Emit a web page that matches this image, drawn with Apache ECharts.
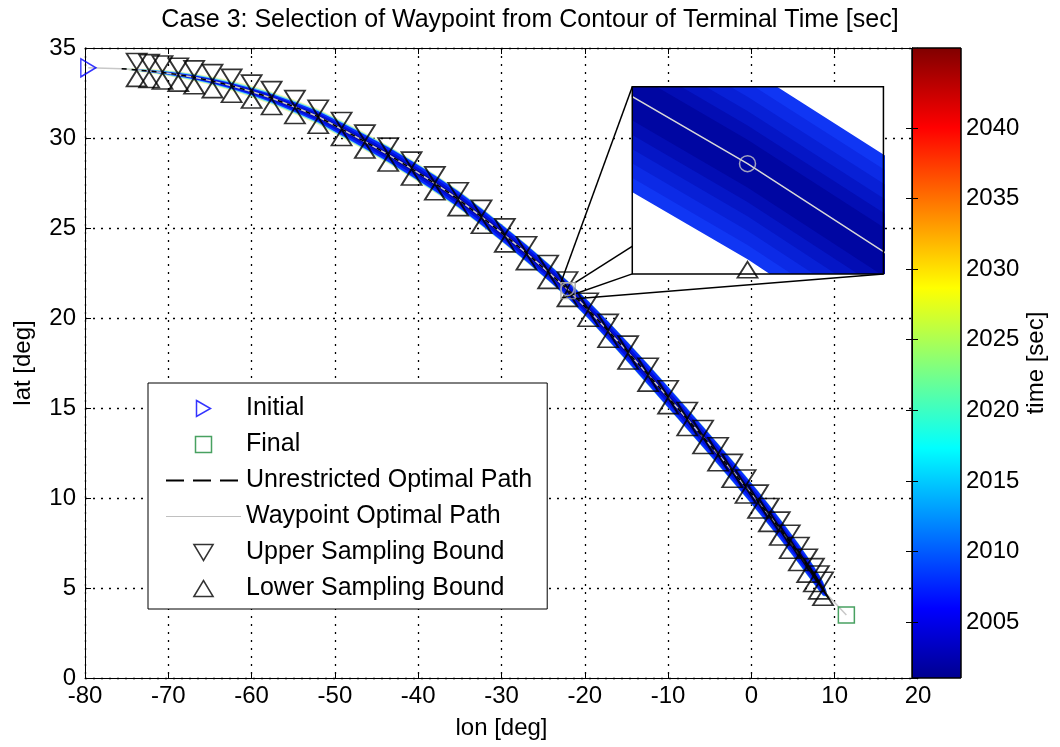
<!DOCTYPE html>
<html>
<head>
<meta charset="utf-8">
<script src="https://cdn.jsdelivr.net/npm/echarts@6/dist/echarts.min.js"></script>
<style>
  html, body { margin: 0; padding: 0; background: #fff; }
  #chart { width: 1060px; height: 747px; }
</style>
</head>
<body>
<div id="chart"></div>
<script>
// ---- Sampling points along the optimal trajectory (deg) ----
const sampleLon = [-73.8, -72.3, -70.7, -68.8, -66.9, -64.7, -62.4, -60.0, -57.6, -54.8,
                   -52.0, -49.2, -46.4, -43.6, -40.8, -38.0, -35.2, -32.4, -29.6, -27.0,
                   -24.4, -22.08, -19.6, -17.2, -14.8, -12.4, -10.0, -7.7, -5.8, -4.0,
                   -2.3, -0.7, 0.8, 2.1, 3.4, 4.6, 5.7, 6.7, 7.5, 8.1, 8.6];
const sampleLat = [33.78, 33.72, 33.64, 33.52, 33.37, 33.16, 32.90, 32.58, 32.22, 31.72,
                   31.18, 30.50, 29.80, 29.08, 28.30, 27.48, 26.60, 25.62, 24.59, 23.60,
                   22.56, 21.60, 20.46, 19.29, 18.08, 16.85, 15.60, 14.39, 13.39, 12.43,
                   11.51, 10.64, 9.80, 9.06, 8.30, 7.57, 6.89, 6.24, 5.72, 5.31, 4.96];
// Upper / lower sampling bounds (lat, deg) at each sample longitude
const upperLat = [34.25, 34.19, 34.11, 33.99, 33.84, 33.63, 33.37, 33.05, 32.69, 32.19,
                  31.65, 30.97, 30.27, 29.55, 28.77, 27.95, 27.07, 26.09, 25.06, 24.07,
                  23.03, 22.11, 20.93, 19.76, 18.55, 17.32, 16.07, 14.86, 13.86, 12.90,
                  11.98, 11.11, 10.27, 9.53, 8.77, 8.04, 7.36, 6.71, 6.19, 5.78, 5.43];
const lowerLat = [33.31, 33.25, 33.17, 33.05, 32.90, 32.69, 32.43, 32.11, 31.75, 31.25,
                  30.71, 30.03, 29.33, 28.61, 27.83, 27.01, 26.13, 25.15, 24.12, 23.13,
                  22.09, 21.09, 19.99, 18.82, 17.61, 16.38, 15.13, 13.92, 12.92, 11.96,
                  11.04, 10.17, 9.33, 8.59, 7.83, 7.10, 6.42, 5.77, 5.25, 4.84, 4.49];

// ---- Optimal path: entry point, sampled track, exit point ----
const pathLon = [-75.6].concat(sampleLon, [9.0]);
const pathLat = [33.85].concat(sampleLat, [4.68]);

// Terminal-time contour band around the path: half thickness and outer fringe (lat deg)
const bandHalf = [0.0,
  0.03, 0.05, 0.07, 0.09, 0.11, 0.13, 0.16, 0.19, 0.23, 0.27,
  0.31, 0.35, 0.38, 0.40, 0.42, 0.43, 0.44, 0.45, 0.45, 0.46,
  0.46, 0.46, 0.48, 0.51, 0.54, 0.56, 0.57, 0.57, 0.57, 0.57,
  0.57, 0.57, 0.57, 0.56, 0.55, 0.54, 0.53, 0.51, 0.48, 0.44, 0.38,
  0.14];
const bandFringe = [0.02,
  0.05, 0.07, 0.09, 0.10, 0.11, 0.12, 0.13, 0.14, 0.14, 0.14,
  0.14, 0.13, 0.12, 0.11, 0.10, 0.09, 0.08, 0.07, 0.06, 0.05,
  0.04, 0.04, 0.04, 0.04, 0.04, 0.04, 0.04, 0.04, 0.04, 0.04,
  0.04, 0.04, 0.04, 0.04, 0.04, 0.04, 0.04, 0.04, 0.04, 0.04, 0.04,
  0.02];

// ---- Endpoints and waypoint ----
const initialPt = [-79.6, 33.9];
const finalPt = [11.4, 3.5];
const waypointPt = [-22.08, 21.6];

// ---- Magnified region and where the inset sits (main-axis deg) ----
const zoomLon = [-22.86, -21.16];
const zoomLat = [21.07, 21.97];
const insetLon = [-14.3, 15.85];
const insetLat = [22.45, 32.85];

// ---- Axes and colour bar ----
const lonRange = [-80, 20];
const latRange = [0, 35];
const timeRange = [2001.04, 2045.66];
const timeTicks = [2005, 2010, 2015, 2020, 2025, 2030, 2035, 2040];

const FONT = '"Liberation Sans", Arial, sans-serif';

// MATLAB jet colormap stops over the colour-bar range
const jetStops = [
  { offset: 0.000, color: '#00008f' },
  { offset: 0.111, color: '#0000ff' },
  { offset: 0.365, color: '#00ffff' },
  { offset: 0.619, color: '#ffff00' },
  { offset: 0.873, color: '#ff0000' },
  { offset: 1.000, color: '#800000' }
];

// Draws the contour band as nested polygons offset in latitude from the path
function bandRenderer(layers) {
  return function (params, api) {
    if (params.dataIndex !== 0) return null;
    const children = layers.map(function (layer) {
      const top = [], bottom = [];
      for (let i = 0; i < pathLon.length; i++) {
        const w = bandHalf[i] * layer.k + bandFringe[i] * layer.f;
        top.push(api.coord([pathLon[i], pathLat[i] + w]));
        bottom.push(api.coord([pathLon[i], pathLat[i] - w]));
      }
      return {
        type: 'polygon',
        shape: { points: top.concat(bottom.reverse()) },
        style: { fill: layer.color }
      };
    });
    return { type: 'group', children: children };
  };
}

const mainLayers = [
  { k: 1.00, f: 1.0, color: 'rgba(238,240,110,0.5)' },
  { k: 1.00, f: 0.5, color: 'rgba(60,210,250,0.8)' },
  { k: 1.00, f: 0.0, color: '#0a2cff' },
  { k: 0.65, f: 0.0, color: '#0012dc' },
  { k: 0.28, f: 0.0, color: '#00009c' }
];
const insetLayers = [
  { k: 1.00, f: 0, color: '#1036f4' },
  { k: 0.85, f: 0, color: '#0c2ae6' },
  { k: 0.70, f: 0, color: '#0820d6' },
  { k: 0.55, f: 0, color: '#0516c6' },
  { k: 0.40, f: 0, color: '#030db4' },
  { k: 0.25, f: 0, color: '#0006a2' }
];

function pairs(xs, ys) { return xs.map(function (x, i) { return [x, ys[i]]; }); }

const hollow = function (stroke, w) {
  return { color: 'rgba(0,0,0,0)', borderColor: stroke, borderWidth: w };
};
const noMarker = { color: 'rgba(0,0,0,0)', borderColor: 'rgba(0,0,0,0)', borderWidth: 0 };

const tickLabelStyle = { color: '#000', fontSize: 24, fontFamily: FONT };
const axisNameStyle = { color: '#000', fontSize: 24, fontFamily: FONT };

const option = {
  animation: false,
  backgroundColor: '#fff',
  title: {
    text: 'Case 3: Selection of Waypoint from Contour of Terminal Time [sec]',
    left: 'center', top: 3,
    textStyle: { fontSize: 25, fontWeight: 'normal', color: '#000', fontFamily: FONT }
  },
  legend: {
    orient: 'vertical', left: 148, top: 383,
    backgroundColor: '#fff', borderColor: '#000', borderWidth: 1, borderRadius: 0,
    padding: [13, 15, 8, 17], itemGap: 11, itemWidth: 75, itemHeight: 16,
    selectedMode: false,
    textStyle: { fontSize: 25, color: '#000', fontFamily: FONT },
    data: [
      { name: 'Initial', icon: 'path://M0,0L14,8L0,16Z', itemStyle: hollow('#0000ff', 1.5) },
      { name: 'Final', icon: 'path://M0,0L15,0L15,15L0,15Z', itemStyle: hollow('#1a8a3a', 1.5) },
      { name: 'Unrestricted Optimal Path', itemStyle: noMarker,
        lineStyle: { type: [18, 9], width: 2, color: '#000' } },
      { name: 'Waypoint Optimal Path', itemStyle: noMarker,
        lineStyle: { type: 'solid', width: 1, color: '#c0c0c0' } },
      { name: 'Upper Sampling Bound', icon: 'path://M0,0L18,0L9,15Z', itemStyle: hollow('#000', 1.5) },
      { name: 'Lower Sampling Bound', icon: 'path://M0,15L9,0L18,15Z', itemStyle: hollow('#000', 1.5) }
    ]
  },
  grid: [
    { left: 85, top: 48, width: 833, height: 630, show: false },
    { left: 633, top: 87, width: 251, height: 187, show: false },
    { left: 912, top: 48, width: 49, height: 630, show: false }
  ],
  xAxis: [
    { // main, bottom
      gridIndex: 0, type: 'value', min: lonRange[0], max: lonRange[1], interval: 10,
      axisLine: { show: true, onZero: false, lineStyle: { color: '#000', width: 1 } },
      axisTick: { show: true, inside: true, length: 6, lineStyle: { color: '#000' } },
      axisLabel: Object.assign({ margin: 6 }, tickLabelStyle),
      splitLine: { show: true, lineStyle: { color: '#000', width: 1.3, type: [2, 6] } },
      name: 'lon [deg]', nameLocation: 'middle', nameGap: 38, nameTextStyle: axisNameStyle
    },
    { // main, top edge of the box
      gridIndex: 0, type: 'value', position: 'top', min: lonRange[0], max: lonRange[1], interval: 10,
      axisLine: { show: true, onZero: false, lineStyle: { color: '#000', width: 1 } },
      axisTick: { show: true, inside: true, length: 6, lineStyle: { color: '#000' } },
      axisLabel: { show: false }, splitLine: { show: false }
    },
    { gridIndex: 1, type: 'value', min: zoomLon[0], max: zoomLon[1], show: false },
    { gridIndex: 2, type: 'value', min: 0, max: 1, show: false }
  ],
  yAxis: [
    { // main
      gridIndex: 0, type: 'value', min: latRange[0], max: latRange[1], interval: 5,
      axisLine: { show: true, onZero: false, lineStyle: { color: '#000', width: 1 } },
      axisTick: { show: true, inside: true, length: 6, lineStyle: { color: '#000' } },
      axisLabel: Object.assign({ margin: 9 }, tickLabelStyle),
      splitLine: { show: true, lineStyle: { color: '#000', width: 1.3, type: [2, 6] } },
      name: 'lat [deg]', nameLocation: 'middle', nameGap: 50, nameRotate: 90,
      nameTextStyle: axisNameStyle
    },
    { gridIndex: 1, type: 'value', min: zoomLat[0], max: zoomLat[1], show: false },
    { // colour bar, labelled side
      gridIndex: 2, type: 'value', position: 'right', min: timeRange[0], max: timeRange[1], z: 13,
      axisLine: { show: true, lineStyle: { color: '#000', width: 1 } },
      axisTick: { show: true, inside: true, length: 6, customValues: timeTicks, lineStyle: { color: '#000' } },
      axisLabel: Object.assign({
        margin: 5, customValues: timeTicks,
        formatter: function (v) { return String(v); }
      }, tickLabelStyle),
      splitLine: { show: false },
      name: 'time [sec]', nameLocation: 'middle', nameGap: 63, nameRotate: 90,
      nameTextStyle: axisNameStyle
    },
    { // colour bar, plain side
      gridIndex: 2, type: 'value', position: 'left', min: timeRange[0], max: timeRange[1], z: 13,
      axisLine: { show: true, lineStyle: { color: '#000', width: 1 } },
      axisTick: { show: true, inside: true, length: 6, customValues: timeTicks, lineStyle: { color: '#000' } },
      axisLabel: { show: false }, splitLine: { show: false }
    }
  ],
  series: [
    { // contour band
      name: 'contour', type: 'custom', xAxisIndex: 0, yAxisIndex: 0, z: 2, silent: true,
      data: [[pathLon[0], pathLat[0]]], renderItem: bandRenderer(mainLayers)
    },
    {
      name: 'Waypoint Optimal Path', type: 'line', xAxisIndex: 0, yAxisIndex: 0, z: 3,
      symbol: 'none', showSymbol: false, silent: true,
      lineStyle: { color: '#c8c8c8', width: 1.5 }, itemStyle: { color: '#c0c0c0' },
      data: [initialPt].concat(pairs(pathLon, pathLat), [finalPt])
    },
    {
      name: 'Unrestricted Optimal Path', type: 'line', xAxisIndex: 0, yAxisIndex: 0, z: 4,
      symbol: 'none', showSymbol: false, silent: true,
      lineStyle: { color: '#000', width: 1.5, type: [5, 5] }, itemStyle: { color: '#000' },
      data: pairs(pathLon, pathLat)
    },
    {
      name: 'Upper Sampling Bound', type: 'scatter', xAxisIndex: 0, yAxisIndex: 0, z: 5,
      symbol: 'triangle', symbolRotate: 180, symbolSize: [20, 16], silent: true,
      itemStyle: hollow('#000', 1.8),
      data: pairs(sampleLon, upperLat)
    },
    {
      name: 'Lower Sampling Bound', type: 'scatter', xAxisIndex: 0, yAxisIndex: 0, z: 5,
      symbol: 'triangle', symbolSize: [20, 16], silent: true,
      itemStyle: hollow('#000', 1.8),
      data: pairs(sampleLon, lowerLat)
    },
    {
      name: 'Initial', type: 'scatter', xAxisIndex: 0, yAxisIndex: 0, z: 6, clip: false,
      symbol: 'triangle', symbolRotate: -90, symbolSize: [18, 15], silent: true,
      itemStyle: hollow('#0000ff', 1.5), data: [initialPt]
    },
    {
      name: 'Final', type: 'scatter', xAxisIndex: 0, yAxisIndex: 0, z: 6,
      symbol: 'rect', symbolSize: 16, silent: true,
      itemStyle: hollow('#1a8a3a', 1.5), data: [finalPt]
    },
    {
      name: 'waypoint', type: 'scatter', xAxisIndex: 0, yAxisIndex: 0, z: 6,
      symbol: 'circle', symbolSize: 13, silent: true,
      itemStyle: hollow('#b4b4b4', 1.5), data: [waypointPt]
    },
    { // outline of the magnified region
      name: 'zoom box', type: 'custom', xAxisIndex: 0, yAxisIndex: 0, z: 6, silent: true,
      data: [[zoomLon[0], zoomLat[1], zoomLon[1], zoomLat[0]]],
      encode: { x: [0, 2], y: [1, 3] },
      renderItem: function (params, api) {
        const a = api.coord([api.value(0), api.value(1)]);
        const b = api.coord([api.value(2), api.value(3)]);
        return { type: 'rect', shape: { x: a[0], y: a[1], width: b[0] - a[0], height: b[1] - a[1] },
                 style: { fill: 'none', stroke: '#9a9a9a', lineWidth: 1.2 } };
      }
    },
    { // connectors from the magnified region to the inset corners
      name: 'connectors', type: 'custom', xAxisIndex: 0, yAxisIndex: 0, z: 5, silent: true,
      data: [
        [zoomLon[0], zoomLat[1], insetLon[0], insetLat[1]],
        [zoomLon[1], zoomLat[1], insetLon[1], insetLat[1]],
        [zoomLon[0], zoomLat[0], insetLon[0], insetLat[0]],
        [zoomLon[1], zoomLat[0], insetLon[1], insetLat[0]]
      ],
      encode: { x: [0, 2], y: [1, 3] },
      renderItem: function (params, api) {
        const a = api.coord([api.value(0), api.value(1)]);
        const b = api.coord([api.value(2), api.value(3)]);
        return { type: 'line', shape: { x1: a[0], y1: a[1], x2: b[0], y2: b[1] },
                 style: { stroke: '#000', lineWidth: 1.5 } };
      }
    },
    // ---- inset: magnified view around the waypoint ----
    {
      name: 'inset bg', type: 'custom', xAxisIndex: 2, yAxisIndex: 1, z: 7, silent: true,
      data: [[zoomLon[0], zoomLat[0]]],
      renderItem: function (params) {
        const c = params.coordSys;
        return { type: 'rect', shape: { x: c.x, y: c.y, width: c.width, height: c.height },
                 style: { fill: '#fff' } };
      }
    },
    {
      name: 'inset contour', type: 'custom', xAxisIndex: 2, yAxisIndex: 1, z: 8, clip: true, silent: true,
      data: [[pathLon[0], pathLat[0]]], renderItem: bandRenderer(insetLayers)
    },
    {
      name: 'inset path', type: 'line', xAxisIndex: 2, yAxisIndex: 1, z: 9, clip: true,
      symbol: 'none', showSymbol: false, silent: true,
      lineStyle: { color: '#d8d8d8', width: 1.5 },
      data: pairs(pathLon, pathLat)
    },
    {
      name: 'inset upper', type: 'scatter', xAxisIndex: 2, yAxisIndex: 1, z: 9, clip: true,
      symbol: 'triangle', symbolRotate: 180, symbolSize: [20, 16], silent: true,
      itemStyle: hollow('#000', 1.8), data: pairs(sampleLon, upperLat)
    },
    {
      name: 'inset lower', type: 'scatter', xAxisIndex: 2, yAxisIndex: 1, z: 9, clip: true,
      symbol: 'triangle', symbolSize: [20, 16], silent: true,
      itemStyle: { color: '#fff', borderColor: '#000', borderWidth: 1.8 }, data: pairs(sampleLon, lowerLat)
    },
    {
      name: 'inset waypoint', type: 'scatter', xAxisIndex: 2, yAxisIndex: 1, z: 10,
      symbol: 'circle', symbolSize: 16, silent: true,
      itemStyle: hollow('#c8c8c8', 1.5), data: [waypointPt]
    },
    {
      name: 'inset frame', type: 'custom', xAxisIndex: 2, yAxisIndex: 1, z: 11, silent: true,
      data: [[zoomLon[0], zoomLat[0]]],
      renderItem: function (params) {
        const c = params.coordSys;
        return { type: 'rect', shape: { x: c.x, y: c.y, width: c.width, height: c.height },
                 style: { fill: 'none', stroke: '#000', lineWidth: 1.5 } };
      }
    },
    // ---- colour bar ----
    {
      name: 'colorbar', type: 'custom', xAxisIndex: 3, yAxisIndex: 2, z: 12, silent: true,
      data: [[0, timeRange[0], 1, timeRange[1]]],
      encode: { x: [0, 2], y: [1, 3] },
      renderItem: function (params, api) {
        const a = api.coord([api.value(0), api.value(3)]);
        const b = api.coord([api.value(2), api.value(1)]);
        return { type: 'rect', shape: { x: a[0], y: a[1], width: b[0] - a[0], height: b[1] - a[1] },
                 style: { fill: new echarts.graphic.LinearGradient(0, 1, 0, 0, jetStops), stroke: '#000', lineWidth: 1 } };
      }
    }
  ]
};

const chart = echarts.init(document.getElementById('chart'), null, { renderer: 'canvas' });
chart.setOption(option);

// Place the inset frame at its data rectangle on the main axes
const tl = chart.convertToPixel({ gridIndex: 0 }, [insetLon[0], insetLat[1]]);
const br = chart.convertToPixel({ gridIndex: 0 }, [insetLon[1], insetLat[0]]);
chart.setOption({
  grid: [{}, { left: tl[0], top: tl[1], width: br[0] - tl[0], height: br[1] - tl[1] }, {}]
});
</script>
</body>
</html>
